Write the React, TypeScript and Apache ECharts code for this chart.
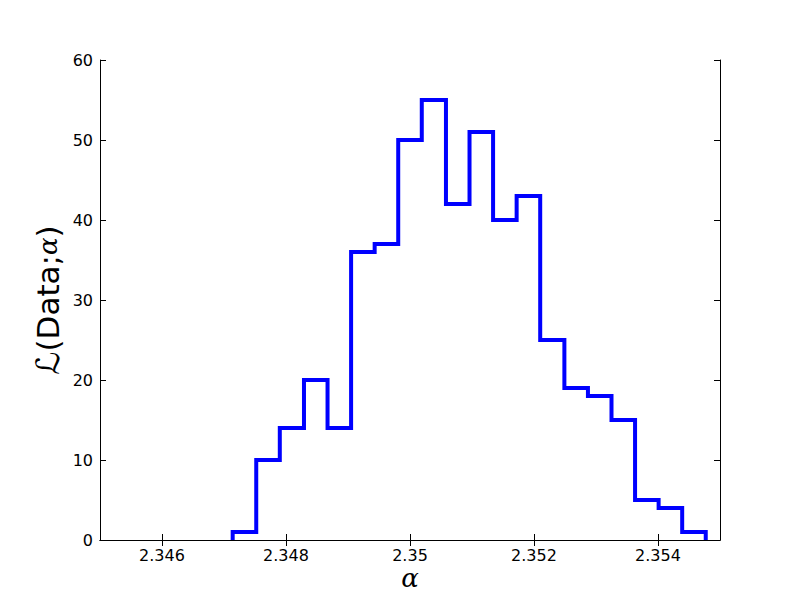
import React, { useEffect, useRef } from "react";
import * as echarts from "echarts";

// Bin edges (alpha) and histogram counts
const binEdges = [
  2.34714, 2.34752, 2.3479, 2.34829, 2.34867, 2.34905, 2.34943, 2.34981,
  2.35019, 2.35058, 2.35096, 2.35134, 2.35172, 2.3521, 2.35249, 2.35287,
  2.35325, 2.35363, 2.35401, 2.35439, 2.35477,
];
const counts = [1, 10, 14, 20, 14, 36, 37, 50, 55, 42, 51, 40, 43, 25, 19, 18, 15, 5, 4, 1];
const xTicks = [2.346, 2.348, 2.35, 2.352, 2.354];

function stepOutline(): number[][] {
  const pts: number[][] = [[binEdges[0], 0]];
  for (let i = 0; i < counts.length; i++) {
    pts.push([binEdges[i], counts[i]]);
    pts.push([binEdges[i + 1], counts[i]]);
  }
  pts.push([binEdges[binEdges.length - 1], 0]);
  return pts;
}

export default function App() {
  const ref = useRef<HTMLDivElement>(null);
  useEffect(() => {
    if (!ref.current) return;
    const chart = echarts.init(ref.current, null, { renderer: "svg" });
    const font = "DejaVu Sans";
    const axisLine = { show: true, lineStyle: { color: "#000", width: 1 } };
    const fmt = (v: number) => String(parseFloat(v.toFixed(3)));
    chart.setOption({
      animation: false,
      backgroundColor: "#fff",
      grid: { left: 100, right: 80, top: 60, bottom: 60, containLabel: false },
      xAxis: [
        {
          type: "value",
          min: 2.345,
          max: 2.355,
          position: "bottom",
          axisLine,
          splitLine: { show: false },
          axisTick: { show: true, inside: true, length: 6, customValues: xTicks, lineStyle: { color: "#000" } },
          axisLabel: {
            show: true,
            customValues: xTicks,
            formatter: fmt,
            color: "#000",
            fontFamily: font,
            fontSize: 16,
            margin: 7,
            lineHeight: 16,
          },
        },
        {
          type: "value",
          min: 2.345,
          max: 2.355,
          position: "top",
          axisLine,
          splitLine: { show: false },
          axisTick: { show: true, inside: true, length: 6, customValues: xTicks, lineStyle: { color: "#000" } },
          axisLabel: { show: false },
        },
      ],
      yAxis: [
        {
          type: "value",
          min: 0,
          max: 60,
          interval: 10,
          position: "left",
          axisLine,
          splitLine: { show: false },
          axisTick: { show: true, inside: true, length: 6, lineStyle: { color: "#000" } },
          axisLabel: { color: "#000", fontFamily: font, fontSize: 16, margin: 7 },
        },
        {
          type: "value",
          min: 0,
          max: 60,
          interval: 10,
          position: "right",
          axisLine,
          splitLine: { show: false },
          axisTick: { show: true, inside: true, length: 6, lineStyle: { color: "#000" } },
          axisLabel: { show: false },
        },
      ],
      series: [
        {
          type: "line",
          data: stepOutline(),
          xAxisIndex: 0,
          yAxisIndex: 0,
          symbol: "none",
          lineStyle: { color: "#0000ff", width: 4, join: "miter", cap: "butt" },
          clip: false,
          z: 5,
        },
      ],
      graphic: [
        {
          type: "text",
          x: 48,
          y: 300,
          rotation: Math.PI / 2,
          style: {
            text: "{s|ℒ}{n|(Data;}{a|α}{n|)}",
            align: "center",
            verticalAlign: "middle",
            fill: "#000",
            rich: {
              s: { fontFamily: "DejaVu Sans", fontStyle: "italic", fontSize: 32, fill: "#000" },
              n: { fontFamily: font, fontSize: 31, fill: "#000" },
              a: { fontFamily: "DejaVu Serif", fontStyle: "italic", fontSize: 26, fill: "#000" },
            },
          },
        },
        {
          type: "text",
          x: 410,
          y: 578,
          style: {
            text: "α",
            align: "center",
            verticalAlign: "middle",
            fill: "#000",
            fontFamily: "DejaVu Serif",
            fontStyle: "italic",
            fontSize: 26,
          },
        },
      ],
    });
    return () => chart.dispose();
  }, []);
  return <div ref={ref} style={{ width: 800, height: 600, margin: -8 }} />;
}
